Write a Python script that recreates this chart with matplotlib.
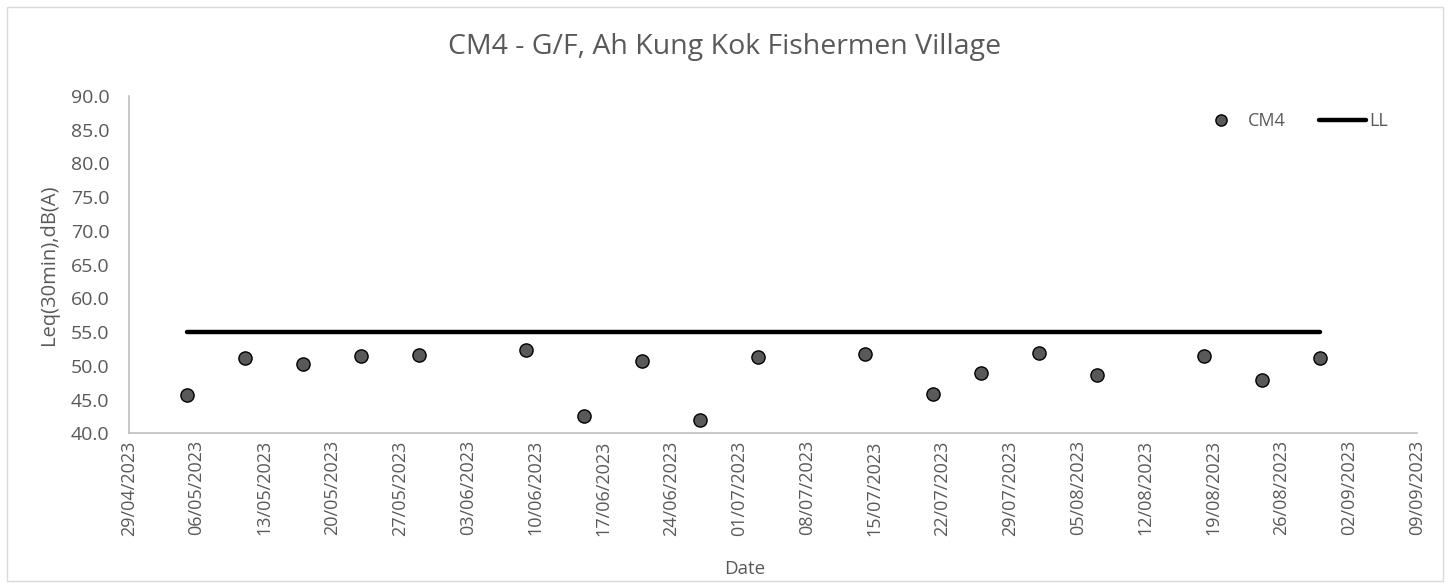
import numpy as np
import pandas as pd
import matplotlib
matplotlib.use("Agg")
import matplotlib.pyplot as plt

# ── data ──────────────────────────────────────────────────────────────────────
dates = ["05/05/2023", "11/05/2023", "17/05/2023", "23/05/2023", "29/05/2023",
         "09/06/2023", "15/06/2023", "21/06/2023", "27/06/2023", "03/07/2023",
         "14/07/2023", "21/07/2023", "26/07/2023", "01/08/2023", "07/08/2023",
         "18/08/2023", "24/08/2023", "30/08/2023"]
cm4 = [45.7, 51.1, 50.3, 51.5, 51.6,
       52.4, 42.5, 50.7, 42.0, 51.3,
       51.7, 45.8, 49.0, 51.9, 48.6,
       51.5, 47.9, 51.2]
ll_dates = ["05/05/2023", "30/08/2023"]
ll = [55.0, 55.0]

x = pd.to_datetime(dates, format="%d/%m/%Y")
xl = pd.to_datetime(ll_dates, format="%d/%m/%Y")
x_min = pd.Timestamp("2023-04-29")
x_max = pd.Timestamp("2023-09-09")

TXT = "#595959"
AX = "#BFBFBF"

plt.rcParams["font.family"] = ["Open Sans", "DejaVu Sans"]

fig = plt.figure(figsize=(14.5, 5.88), dpi=100)
ax = fig.add_axes([128.7 / 1450, 1 - 433.3 / 588, (1417 - 128.7) / 1450, (433.3 - 96) / 588])
W = 1417 - 128.7

ax.plot(xl, ll, color="black", lw=3.2, solid_capstyle="round", label="LL", zorder=2)
ax.plot(x, cm4, ls="none", marker="o", ms=9.5, mfc="#595959", mec="black", mew=1.0,
        label="CM4", zorder=3)

ax.set_xlim(x_min, x_max)
ax.set_ylim(40, 90)
ax.set_yticks(np.arange(40, 90.1, 5))
ax.yaxis.set_major_formatter(matplotlib.ticker.FormatStrFormatter("%.1f"))
ticks = pd.date_range(x_min, x_max, freq="7D")
ax.set_xticks(ticks)
ax.set_xticklabels([t.strftime("%d/%m/%Y") for t in ticks], rotation=90)
ax.tick_params(axis="x", length=0, labelsize=13, labelcolor=TXT, pad=5)
ax.tick_params(axis="y", length=0, labelsize=14, labelcolor=TXT, pad=14)

for s in ["top", "right"]:
    ax.spines[s].set_visible(False)
for s in ["left", "bottom"]:
    ax.spines[s].set_color(AX)
    ax.spines[s].set_linewidth(1.2)

ax.set_ylabel("Leq(30min),dB(A)", fontsize=14.5, color=TXT)
ax.yaxis.set_label_coords(-(128.7 - 59) / W, 0.5)
ax.set_xlabel("Date", fontsize=13.5, color=TXT)
ax.xaxis.set_label_coords(0.478, -0.375)

fig.text(0.5, 1 - 47 / 588, "CM4 - G/F, Ah Kung Kok Fishermen Village",
         ha="center", va="center", fontsize=20.5, color=TXT)

h, l = ax.get_legend_handles_labels()
leg = ax.legend([h[1], h[0]], [l[1], l[0]], ncol=2, frameon=False, fontsize=13,
                loc="upper right", bbox_to_anchor=(0.99, 1.0), columnspacing=1.8,
                handlelength=2.6, handletextpad=0.2, markerscale=0.85)
for t in leg.get_texts():
    t.set_color(TXT)

# light chart-area border
fig.add_artist(plt.Rectangle((7 / 1450, 7 / 588), 1 - 14 / 1450, 1 - 14 / 588,
                             transform=fig.transFigure, fill=False, ec="#D9D9D9", lw=1.0))

fig.savefig("out.png", dpi=100)
